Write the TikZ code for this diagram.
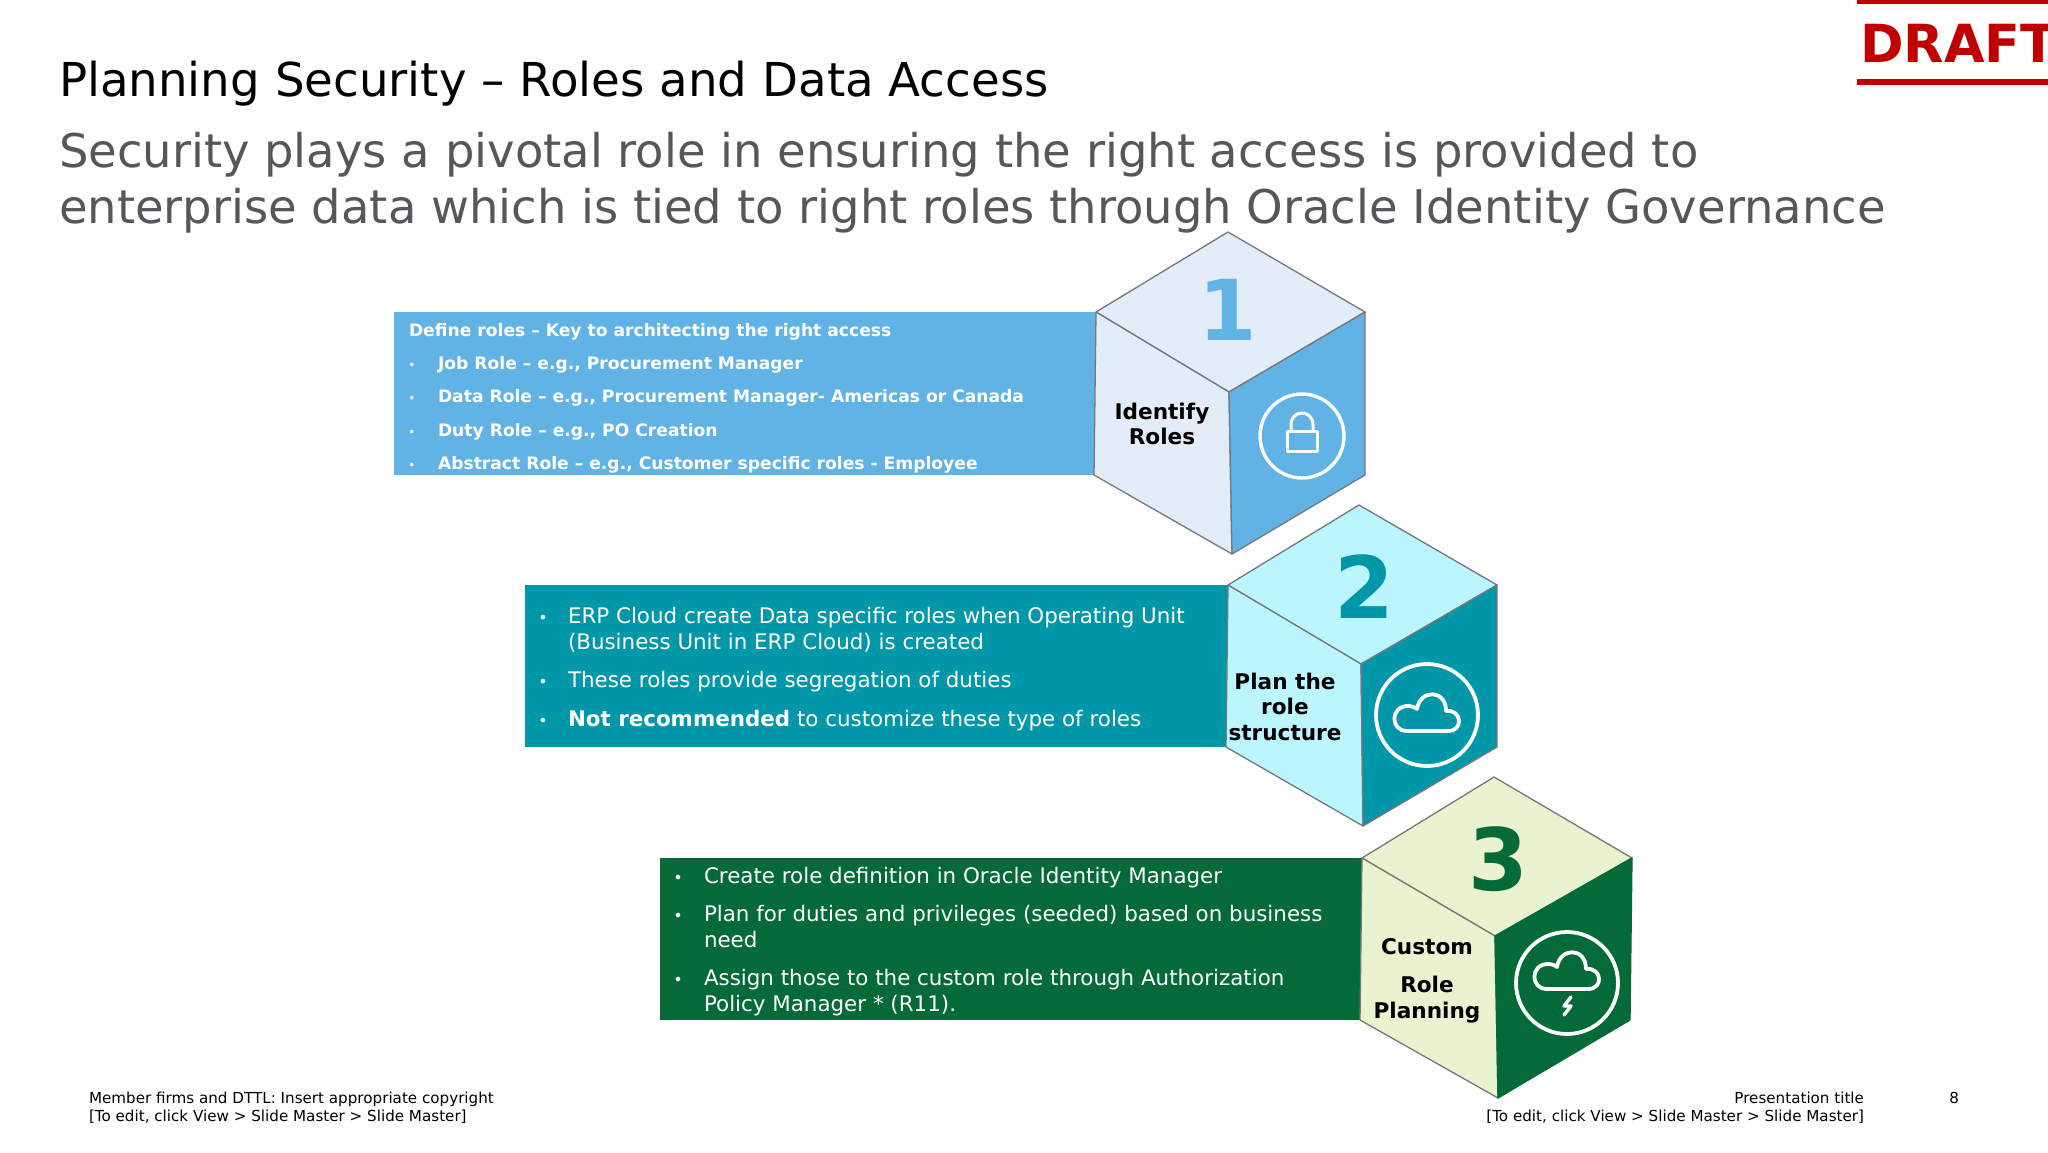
\documentclass[tikz,border=0pt]{standalone}
\usepackage{fontspec}
\setmainfont{DejaVu Sans}
\definecolor{cblue}{HTML}{62B3E5}
\definecolor{lblue}{HTML}{E2EDF9}
\definecolor{cteal}{HTML}{0097A9}
\definecolor{lteal}{HTML}{BBF6FF}
\definecolor{cgreen}{HTML}{046A38}
\definecolor{lgreen}{HTML}{E9F3CF}
\definecolor{cred}{HTML}{C00000}
\definecolor{cgrey}{HTML}{55575A}
\definecolor{edge}{HTML}{75787B}
\newcommand{\fsz}[1]{\fontsize{#1}{#1}\selectfont}
\tikzset{
  x=1pt,y=-1pt,
  txt/.style={anchor=base west,inner sep=0pt,outer sep=0pt},
  txtr/.style={anchor=base east,inner sep=0pt,outer sep=0pt},
  ctr/.style={anchor=base,inner sep=0pt,outer sep=0pt,font=\fsz{21.6}\bfseries,text=black},
  big/.style={anchor=base,inner sep=0pt,outer sep=0pt,font=\fsz{86}\bfseries},
  bw/.style={txt,text=white,font=\fsz{17.15}\bfseries},
  nw/.style={txt,text=white,font=\fsz{21.4}},
  dotA/.style={anchor=base,inner sep=0pt,outer sep=0pt,text=white,font=\fsz{12}},
  dotB/.style={anchor=base,inner sep=0pt,outer sep=0pt,text=white,font=\fsz{16}},
  foot/.style={font=\fsz{15.15},text=black},
  face/.style={draw=edge,line width=1.3pt,line join=round},
  ring/.style={draw=white,line width=3.4pt,fill=none},
  ico/.style={draw=white,line width=3pt,fill=none,line join=round,line cap=round}
}
\newcommand{\cloudshape}[2]{%
  \draw[ico,line width=3.8pt] ([shift={(-20,16)}]#1,#2)
     .. controls ([shift={(-37,16)}]#1,#2) and ([shift={(-37,-9)}]#1,#2) .. ([shift={(-19,-9)}]#1,#2)
     .. controls ([shift={(-16,-9)}]#1,#2) and ([shift={(-12,-8)}]#1,#2) .. ([shift={(-10,-6)}]#1,#2)
     .. controls ([shift={(-7,-26)}]#1,#2) and ([shift={(19,-26)}]#1,#2) .. ([shift={(19,-4)}]#1,#2)
     .. controls ([shift={(35,-6)}]#1,#2) and ([shift={(37,16)}]#1,#2) .. ([shift={(21,16)}]#1,#2)
     -- cycle;}
\begin{document}
\begin{tikzpicture}
\useasboundingbox (0,0) rectangle (2048,1152);
\fill[white] (0,0) rectangle (2048,1152);
% draft
\fill[cred] (1857,0) rectangle (2048,4);
\fill[cred] (1857,79) rectangle (2048,85);
\node[txt,text=cred,font=\fsz{52.5}\bfseries] (draft) at (1860,62) {DRAFT};
% titles
\node[txt,font=\fsz{46.7}] (title) at (59,96) {Planning Security – Roles and Data Access};
\node[txt,text=cgrey,font=\fsz{46.45}] (sub1) at (59,167) {Security plays a pivotal role in ensuring the right access is provided to};
\node[txt,text=cgrey,font=\fsz{46.45}] (sub2) at (59,223) {enterprise data which is tied to right roles through Oracle Identity Governance};
% bars
\fill[cblue] (394,312) rectangle (1096,475);
\fill[cteal] (525,584.5) rectangle (1228,747);
\fill[cgreen] (660,857.5) rectangle (1362,1020);
% cube 1
\draw[face,fill=lblue] (1228,232) -- (1365,312) -- (1229,392) -- (1096,312) -- cycle;
\draw[face,fill=lblue] (1096,312) -- (1229,392) -- (1232,554) -- (1094,475) -- cycle;
\draw[face,fill=cblue] (1229,392) -- (1365,312) -- (1365,475) -- (1232,554) -- cycle;
% cube 2
\draw[face,fill=lteal] (1359,505) -- (1497,585) -- (1361,664) -- (1228,585) -- cycle;
\draw[face,fill=lteal] (1228,585) -- (1361,664) -- (1363,826) -- (1226,747) -- cycle;
\draw[face,fill=cteal] (1361,664) -- (1497,585) -- (1497,747) -- (1363,826) -- cycle;
% cube 3
\draw[face,fill=lgreen] (1494,777) -- (1632,858) -- (1495,936) -- (1362,858) -- cycle;
\draw[face,fill=lgreen] (1362,858) -- (1495,936) -- (1498,1098) -- (1360,1020) -- cycle;
\draw[face,fill=cgreen,draw=cgreen] (1495,936) -- (1632,858) -- (1630,1020) -- (1498,1098) -- cycle;
% numbers
\node[big,text=cblue,font=\fsz{84}\bfseries] (n1) at (1228,340) {1};
\node[big,text=cteal] (n2) at (1364,618) {2};
\node[big,text=cgreen] (n3) at (1498,890) {3};
% cube captions
\node[ctr] (c1a) at (1162,419) {Identify};
\node[ctr] (c1b) at (1162,444) {Roles};
\node[ctr] (c2a) at (1285,689) {Plan the};
\node[ctr] (c2b) at (1285,714) {role};
\node[ctr] (c2c) at (1285,740) {structure};
\node[ctr] (c3a) at (1427,954) {Custom};
\node[ctr] (c3b) at (1427,992) {Role};
\node[ctr] (c3c) at (1427,1018) {Planning};
% icons
\draw[ring] (1302,436) circle (42);
\draw[ico] (1287,431) rectangle (1317,451);
\draw[ico] (1291,431) -- (1291,425) .. controls (1291,409) and (1313,409) .. (1313,425) -- (1313,431);
\draw[ring,line width=3.8pt] (1427,715) circle (51);
\cloudshape{1427}{715}
\draw[ring,line width=3.8pt] (1567,983) circle (51);
\cloudshape{1567}{973}
\draw[ico,line width=3.4pt] (1571,997) -- (1564,1006) -- (1571,1006) -- (1564,1015);
% block 1
\node[bw] (a0) at (409,336) {Define roles – Key to architecting the right access};
\node[dotA] (a1d) at (412,369) {•};
\node[bw] (a1) at (438,369) {Job Role – e.g., Procurement Manager};
\node[dotA] (a2d) at (412,402) {•};
\node[bw] (a2) at (438,402) {Data Role – e.g., Procurement Manager- Americas or Canada};
\node[dotA] (a3d) at (412,436) {•};
\node[bw] (a3) at (438,436) {Duty Role – e.g., PO Creation};
\node[dotA] (a4d) at (412,469) {•};
\node[bw] (a4) at (438,469) {Abstract Role – e.g., Customer specific roles - Employee};
% block 2
\node[dotB] (b1d) at (543,623) {•};
\node[nw] (b1) at (568,623.5) {ERP Cloud create Data specific roles when Operating Unit};
\node[nw] (b1b) at (568,649) {(Business Unit in ERP Cloud) is created};
\node[dotB] (b2d) at (543,687) {•};
\node[nw] (b2) at (568,687.5) {These roles provide segregation of duties};
\node[dotB] (b3d) at (543,726) {•};
\node[nw] (b3) at (568,726) {\textbf{Not recommended} to customize these type of roles};
% block 3
\node[dotB] (d1d) at (678,883) {•};
\node[nw] (d1) at (704,883) {Create role definition in Oracle Identity Manager};
\node[dotB] (d2d) at (678,921) {•};
\node[nw] (d2) at (704,921.5) {Plan for duties and privileges (seeded) based on business};
\node[nw] (d2b) at (704,947) {need};
\node[dotB] (d3d) at (678,985) {•};
\node[nw] (d3) at (704,985.5) {Assign those to the custom role through Authorization};
\node[nw] (d3b) at (704,1011) {Policy Manager * (R11).};
% footer
\node[txt,foot] (f1) at (89,1103) {Member firms and DTTL: Insert appropriate copyright};
\node[txt,foot] (f2) at (89,1121) {[To edit, click View > Slide Master > Slide Master]};
\node[txtr,foot] (f3) at (1864,1103) {Presentation title};
\node[txtr,foot] (f4) at (1864,1121) {[To edit, click View > Slide Master > Slide Master]};
\node[txtr,foot] (f5) at (1959,1103) {8};
\end{tikzpicture}
\end{document}
